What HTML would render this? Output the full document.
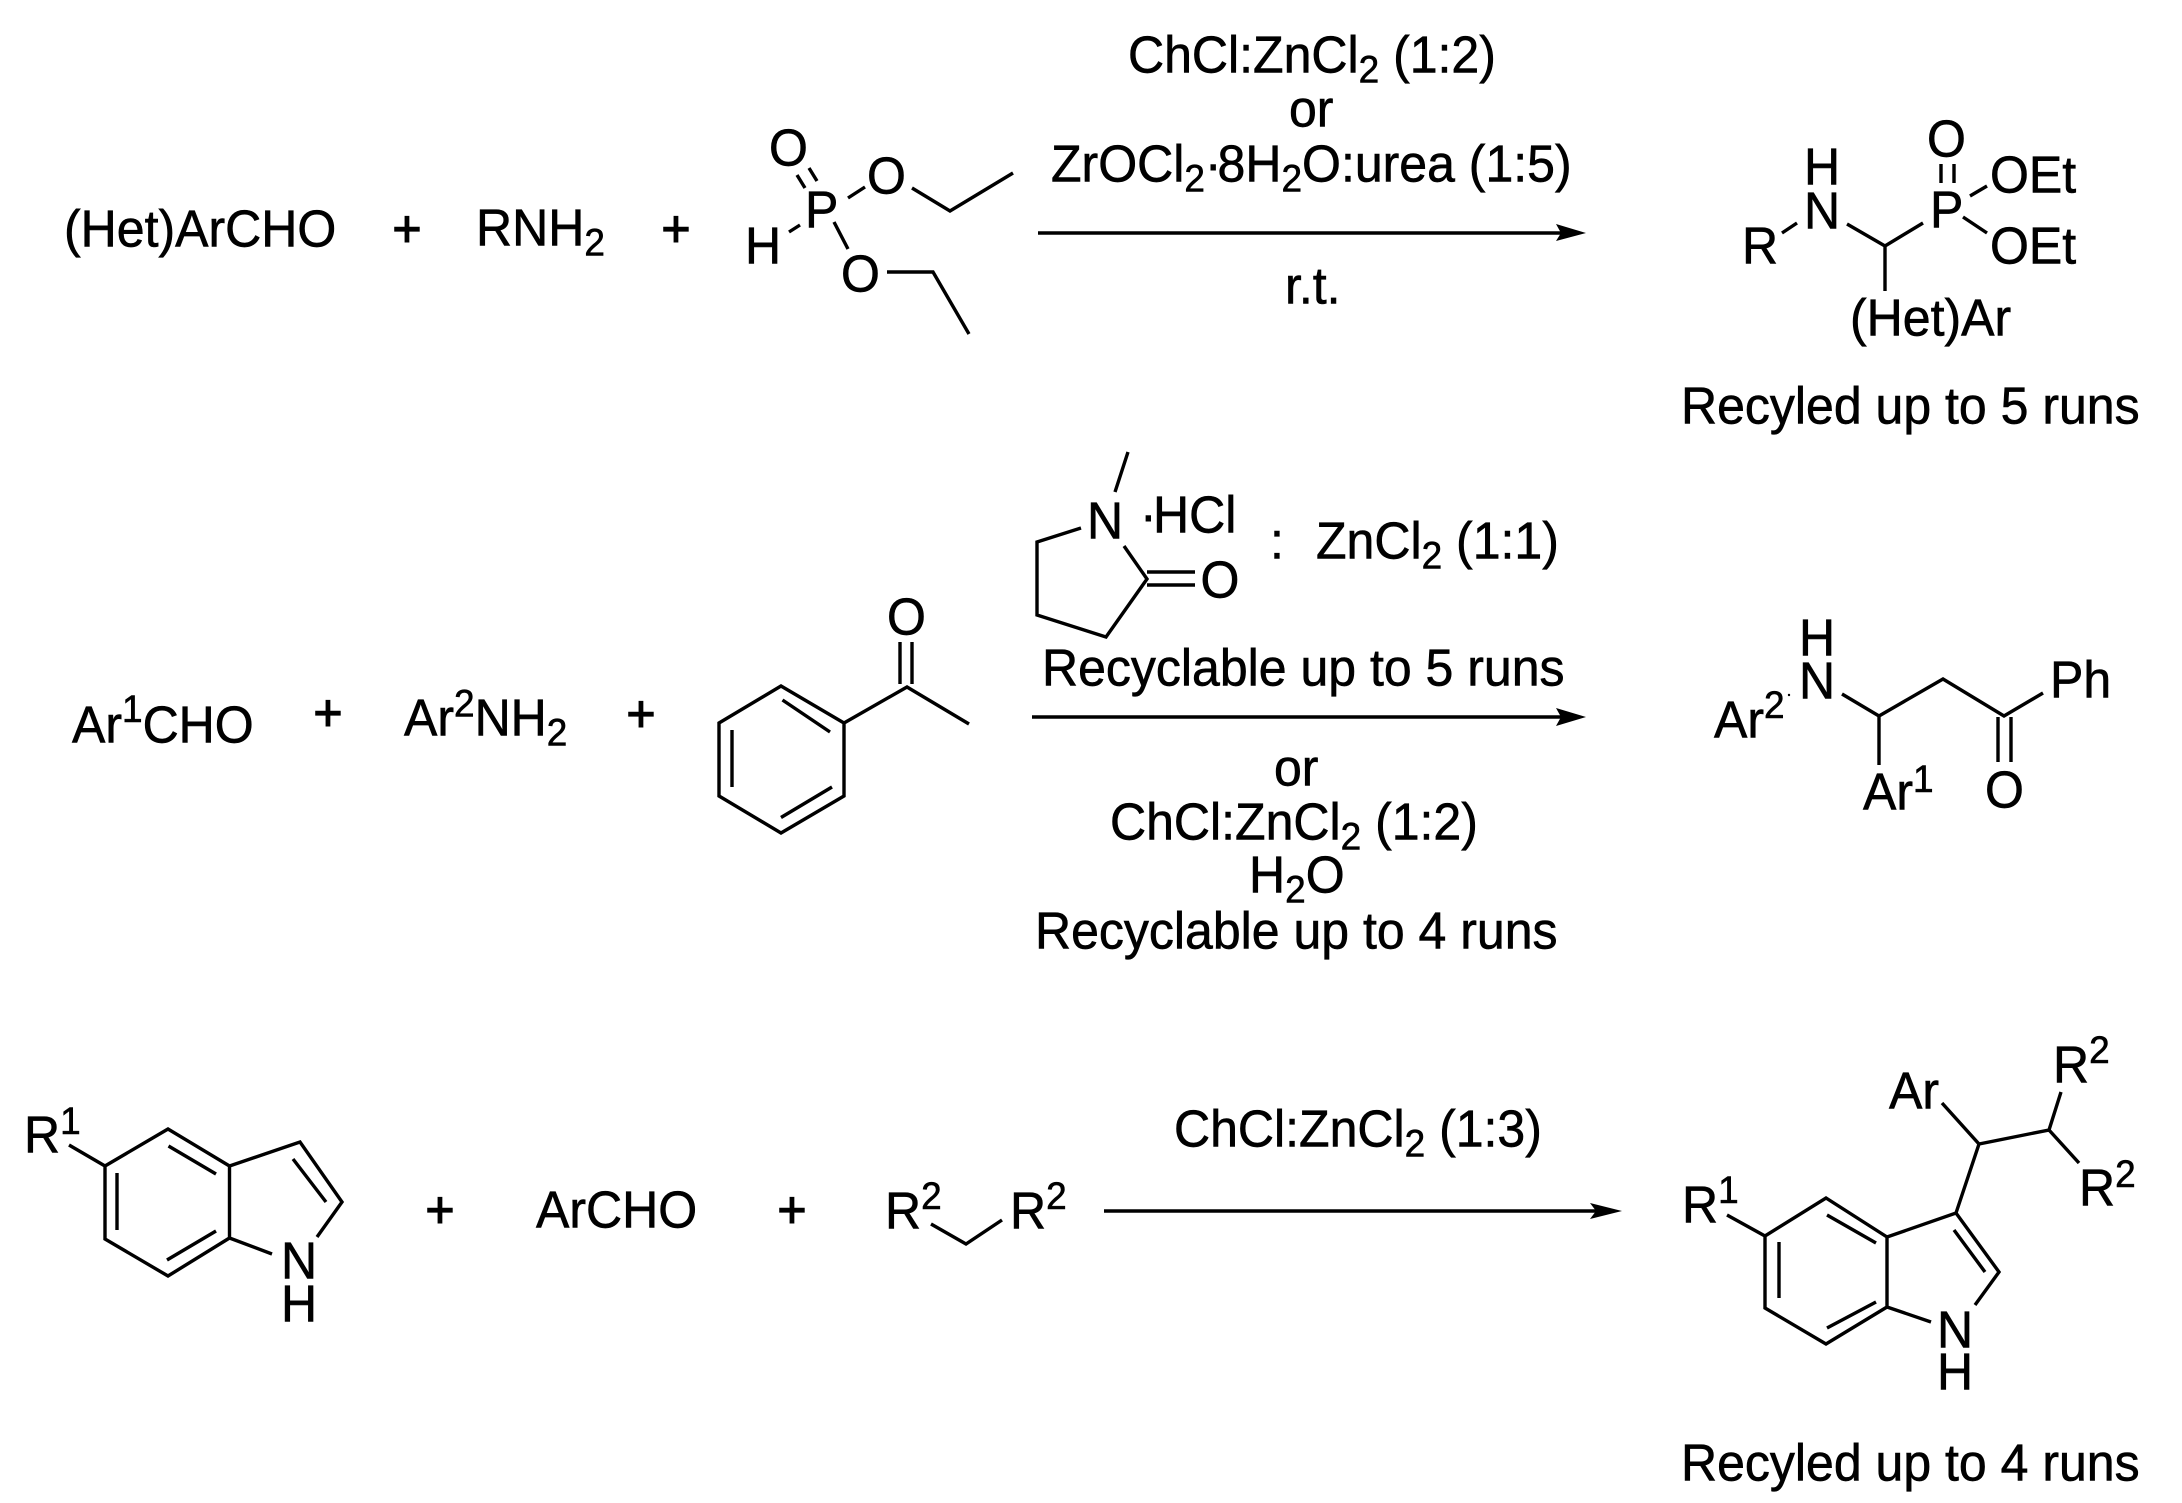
<!DOCTYPE html>
<html><head><meta charset="utf-8"><style>
html,body{margin:0;padding:0;background:#fff}
svg{display:block}
text{font-family:"Liberation Sans",Arial,sans-serif;font-size:50px;fill:#000;stroke:#000;stroke-width:.6px;text-rendering:geometricPrecision;transform-box:fill-box;transform-origin:0 100%;transform:translateY(1px) scaleY(1.04)}
.s{font-size:37px}
.p{text-anchor:middle;stroke-width:1.2px}
path{fill:none;stroke:#000;stroke-width:3.4}
.a{fill:#000;stroke:none}
</style></head><body>
<svg width="2182" height="1503" viewBox="0 0 2182 1503" xmlns="http://www.w3.org/2000/svg">
<rect width="2182" height="1503" fill="#fff"/>
<!-- Row 1 reactants -->
<text x="64" y="246">(Het)ArCHO</text>
<text class="p" x="407" y="246">+</text>
<text x="476" y="245">RNH<tspan class="s" dy="10">2</tspan></text>
<text class="p" x="676" y="246">+</text>
<text x="769" y="165">O</text>
<text x="745" y="263">H</text>
<text x="805" y="227">P</text>
<text x="867" y="193">O</text>
<text x="841" y="291">O</text>
<path d="M797 175L805 188M809 168L817 181M800 225L789 232M865 187L848 198M834 222L848 249M912 188L950 211L1013 173M887 272H933L969 334"/>
<!-- Row 1 arrow + labels -->
<path d="M1038 233H1565"/>
<path class="a" d="M1586 233L1556 224L1561 233L1556 241Z"/>
<text x="1128" y="72">ChCl:ZnCl<tspan class="s" dy="10">2</tspan><tspan dy="-10"> (1:2)</tspan></text>
<text x="1289" y="126">or</text>
<text x="1051" y="181">ZrOCl<tspan class="s" dy="10">2</tspan><tspan dy="-10" letter-spacing="-4">·</tspan><tspan>8H</tspan><tspan class="s" dy="10">2</tspan><tspan dy="-10">O:urea (1:5)</tspan></text>
<text x="1285" y="303">r.t.</text>
<!-- Row 1 product -->
<text x="1804" y="184">H</text>
<text x="1804" y="228">N</text>
<text x="1742" y="263">R</text>
<text x="1930" y="227">P</text>
<text x="1927" y="156">O</text>
<text x="1990" y="192">OEt</text>
<text x="1990" y="263">OEt</text>
<text x="1850" y="335">(Het)Ar</text>
<text x="1681" y="423">Recyled up to 5 runs</text>
<path d="M1782 233L1797 223M1847 224L1885 246L1923 223M1885 246V291M1941 164V183M1954 164V183M1970 196L1987 186M1963 217L1987 233"/>
<!-- Row 2 reactants -->
<text x="72" y="742">Ar<tspan class="s" dy="-20">1</tspan><tspan dy="20">CHO</tspan></text>
<text class="p" x="328" y="730">+</text>
<text x="404" y="735">Ar<tspan class="s" dy="-18">2</tspan><tspan dy="18">NH</tspan><tspan class="s" dy="10">2</tspan></text>
<text class="p" x="641" y="731">+</text>
<path d="M781 686L844 723V796L781 833L719 796V723ZM782.5 700L830 732M732 730V787M781 817.5L832 787M844 723L907 687L969 724M900 642V684M912 642V684"/>
<text x="887" y="634">O</text>
<!-- Row 2 arrow + labels -->
<path d="M1032 717H1565"/>
<path class="a" d="M1586 717L1556 708L1561 717L1556 726Z"/>
<path d="M1128 452L1115 492M1081 528L1037 542V615L1106 637L1147 579L1124 546M1147 572H1195M1147 585H1195"/>
<text x="1087" y="538">N</text>
<text x="1140" y="532">·</text><text x="1153" y="532">HCl</text>
<text x="1270" y="558">:</text>
<text x="1316" y="558">ZnCl<tspan class="s" dy="10">2</tspan><tspan dy="-10"> (1:1)</tspan></text>
<text x="1200.5" y="597">O</text>
<text x="1042" y="685">Recyclable up to 5 runs</text>
<text x="1274" y="785">or</text>
<text x="1110" y="839">ChCl:ZnCl<tspan class="s" dy="10">2</tspan><tspan dy="-10"> (1:2)</tspan></text>
<text x="1249" y="892">H<tspan class="s" dy="10">2</tspan><tspan dy="-10">O</tspan></text>
<text x="1035" y="948">Recyclable up to 4 runs</text>
<!-- Row 2 product -->
<text x="1799" y="655">H</text>
<text x="1799" y="698">N</text>
<text x="1714" y="737">Ar<tspan class="s" dy="-19">2</tspan></text>
<circle cx="1789" cy="695" r="1.2"/>
<path d="M1842 694L1879 716L1943 679L2004 716L2043 693M1879 716V765M1998 717V762M2011 717V762"/>
<text x="2050" y="697">Ph</text>
<text x="1863" y="809">Ar<tspan class="s" dy="-17">1</tspan></text>
<text x="1985" y="807">O</text>
<!-- Row 3 reactants -->
<text x="24" y="1152">R<tspan class="s" dy="-18">1</tspan></text>
<path d="M69 1145L105 1166L168 1129L229.5 1166V1238L168 1276L105 1239V1166M168.5 1146L216 1174M117 1173V1230M167 1260L216 1231M229.5 1166L300 1142L342 1202L317 1237M229.5 1238L272 1254M293 1159L326 1202"/>
<text x="281" y="1278">N</text>
<text x="281" y="1321">H</text>
<text class="p" x="440" y="1227">+</text>
<text x="536" y="1227">ArCHO</text>
<text class="p" x="792" y="1227">+</text>
<text x="885" y="1228">R<tspan class="s" dy="-19">2</tspan></text>
<path d="M931 1224L966 1244L1002 1220"/>
<text x="1010" y="1228">R<tspan class="s" dy="-19">2</tspan></text>
<!-- Row 3 arrow + label -->
<path d="M1104 1211H1600"/>
<path class="a" d="M1622 1211L1590 1203L1596 1211L1590 1219Z"/>
<text x="1174" y="1146">ChCl:ZnCl<tspan class="s" dy="10">2</tspan><tspan dy="-10"> (1:3)</tspan></text>
<!-- Row 3 product -->
<text x="1682" y="1222">R<tspan class="s" dy="-19">1</tspan></text>
<path d="M1727 1215L1765 1236L1826 1198L1887 1237V1307L1826 1344L1765 1308V1236M1827 1215L1876 1243M1779 1242V1298M1827 1328L1876 1302M1887 1237L1956 1213L1999 1272L1975 1305M1887 1307L1931 1322M1954 1230L1985 1272M1956 1213L1979 1144L1942 1103M1979 1144L2049 1130L2061 1092M2049 1130L2079 1163"/>
<text x="1937" y="1347">N</text>
<text x="1937" y="1389">H</text>
<text x="1889" y="1108">Ar</text>
<text x="2053" y="1082">R<tspan class="s" dy="-19">2</tspan></text>
<text x="2079" y="1205">R<tspan class="s" dy="-18">2</tspan></text>
<text x="1681" y="1480">Recyled up to 4 runs</text>
</svg>
</body></html>
